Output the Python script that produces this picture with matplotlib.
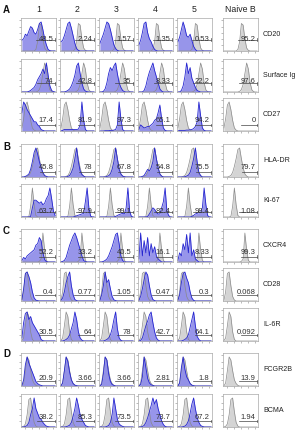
import numpy as np
import matplotlib
matplotlib.use("Agg")
import matplotlib.pyplot as plt
from matplotlib import font_manager

_names = {f.name for f in font_manager.fontManager.ttflist}
_fam = 'Liberation Sans' if 'Liberation Sans' in _names else 'DejaVu Sans'
plt.rcParams['font.family'] = [_fam, 'DejaVu Sans']

# ---------------- data ----------------
columns = ["1", "2", "3", "4", "5", "Naive B"]
markers = ["CD20", "Surface Ig", "CD27", "HLA-DR", "Ki-67",
           "CXCR4", "CD28", "IL-6R", "FCGR2B", "BCMA"]
sections = ["A", "B", "C", "D"]

# gated percentages (columns 1-5, Naive B)
pct_CD20 = ["48.5", "2.24", "1.57", "1.35", "0.53", "95.2"]
pct_SIg = ["74", "42.8", "35", "8.33", "22.2", "97.6"]
pct_CD27 = ["17.4", "81.9", "97.3", "65.1", "94.2", "0"]
pct_HLADR = ["45.8", "78", "67.8", "54.8", "75.5", "79.7"]
pct_Ki67 = ["63.7", "97.9", "99.1", "82.4", "98.4", "1.08"]
pct_CXCR4 = ["52.2", "33.2", "40.5", "16.1", "8.33", "99.3"]
pct_CD28 = ["0.4", "0.77", "1.05", "0.47", "0.3", "0.068"]
pct_IL6R = ["30.5", "64", "78", "42.7", "64.1", "0.092"]
pct_FCGR2B = ["20.9", "3.66", "3.66", "2.81", "1.8", "13.9"]
pct_BCMA = ["38.2", "85.3", "73.5", "73.7", "67.2", "1.94"]

# histogram heights, 20 bins across the log axis (naive B reference = gray)
gray_CD20 = [0, 0, 0, 0, 0, 0, 0, 0, 0.05, 0.3, 0.9, 0.85, 0.4, 0.1, 0.02, 0, 0, 0, 0, 0]
blue_CD20 = [
    [0.35, 0.4, 0.55, 0.5, 0.65, 0.8, 0.75, 0.6, 0.55, 0.7, 0.9, 0.95, 0.7, 0.4, 0.2, 0.05, 0.01, 0, 0, 0],
    [0.3, 0.35, 0.5, 0.7, 0.9, 0.95, 0.75, 0.5, 0.25, 0.08, 0.02, 0, 0, 0, 0, 0, 0, 0, 0, 0],
    [0.25, 0.4, 0.55, 0.75, 0.95, 0.9, 0.7, 0.45, 0.2, 0.08, 0.02, 0, 0, 0, 0, 0, 0, 0, 0, 0],
    [0.2, 0.35, 0.6, 0.9, 0.95, 0.6, 0.4, 0.3, 0.15, 0.05, 0.01, 0, 0, 0, 0, 0, 0, 0, 0, 0],
    [0.3, 0.45, 0.7, 0.95, 0.75, 0.5, 0.45, 0.55, 0.35, 0.15, 0.05, 0, 0, 0, 0, 0, 0, 0, 0, 0],
]
gray_SIg = [0, 0, 0, 0, 0, 0, 0, 0, 0, 0.02, 0.08, 0.25, 0.6, 0.95, 0.75, 0.3, 0.07, 0.01, 0, 0]
blue_SIg = [
    [0, 0, 0, 0, 0.02, 0.05, 0.1, 0.15, 0.25, 0.4, 0.5, 0.6, 0.75, 0.6, 0.95, 0.55, 0.2, 0.05, 0.01, 0],
    [0, 0, 0, 0.02, 0.05, 0.1, 0.2, 0.35, 0.55, 0.85, 0.95, 0.6, 0.3, 0.1, 0.03, 0.01, 0, 0, 0, 0],
    [0, 0, 0.02, 0.1, 0.3, 0.6, 0.8, 0.7, 0.85, 0.95, 0.6, 0.3, 0.15, 0.05, 0.01, 0, 0, 0, 0, 0],
    [0, 0, 0, 0.05, 0.2, 0.45, 0.65, 0.8, 0.95, 0.7, 0.5, 0.3, 0.1, 0.03, 0, 0, 0, 0, 0, 0],
    [0, 0, 0.05, 0.2, 0.5, 0.95, 0.6, 0.8, 0.45, 0.3, 0.15, 0.05, 0.02, 0, 0, 0, 0, 0, 0, 0],
]
gray_CD27 = [0.1, 0.4, 0.85, 0.95, 0.7, 0.35, 0.1, 0.03, 0, 0, 0, 0, 0, 0, 0, 0, 0, 0, 0, 0]
blue_CD27 = [
    [0.6, 0.95, 0.85, 0.7, 0.6, 0.5, 0.4, 0.3, 0.3, 0.2, 0.15, 0.05, 0.02, 0, 0, 0, 0, 0, 0, 0],
    [0, 0.02, 0.05, 0.05, 0.05, 0.05, 0.05, 0.05, 0.05, 0.05, 0.06, 0.2, 0.95, 0.35, 0.05, 0, 0, 0, 0, 0],
    [0, 0, 0, 0.01, 0.01, 0.01, 0.02, 0.02, 0.03, 0.05, 0.2, 0.95, 0.4, 0.05, 0, 0, 0, 0, 0, 0],
    [0.05, 0.2, 0.15, 0.1, 0.12, 0.15, 0.15, 0.2, 0.25, 0.35, 0.4, 0.6, 0.85, 0.4, 0.1, 0.02, 0, 0, 0, 0],
    [0, 0.02, 0.02, 0.02, 0.02, 0.03, 0.03, 0.04, 0.05, 0.08, 0.15, 0.3, 0.95, 0.5, 0.1, 0.02, 0, 0, 0, 0],
]
gray_HLADR = [0, 0, 0, 0.02, 0.05, 0.15, 0.35, 0.6, 0.9, 0.95, 0.6, 0.3, 0.1, 0.03, 0, 0, 0, 0, 0, 0]
blue_HLADR = [
    [0, 0, 0.02, 0.05, 0.1, 0.25, 0.5, 0.8, 0.95, 0.75, 0.5, 0.3, 0.15, 0.05, 0.02, 0, 0, 0, 0, 0],
    [0, 0, 0, 0, 0.02, 0.05, 0.15, 0.3, 0.6, 0.95, 0.5, 0.2, 0.08, 0.03, 0, 0, 0, 0, 0, 0],
    [0, 0, 0, 0, 0.02, 0.04, 0.1, 0.25, 0.5, 0.95, 0.6, 0.25, 0.1, 0.03, 0.01, 0, 0, 0, 0, 0],
    [0, 0, 0.02, 0.05, 0.15, 0.25, 0.2, 0.3, 0.5, 0.95, 0.6, 0.3, 0.1, 0.03, 0, 0, 0, 0, 0, 0],
    [0, 0, 0, 0, 0.01, 0.03, 0.06, 0.15, 0.35, 0.6, 0.95, 0.5, 0.15, 0.05, 0, 0, 0, 0, 0, 0],
]
gray_Ki67 = [0, 0, 0, 0, 0.02, 0.35, 0.95, 0.4, 0.05, 0, 0, 0, 0, 0, 0, 0, 0, 0, 0, 0]
blue_Ki67 = [
    [0, 0, 0, 0, 0, 0.02, 0.3, 0.55, 0.55, 0.5, 0.45, 0.5, 0.4, 0.45, 0.6, 0.7, 0.95, 0.6, 0.2, 0.05],
    [0, 0, 0, 0, 0, 0, 0, 0, 0.02, 0.04, 0.06, 0.08, 0.1, 0.12, 0.5, 0.95, 0.3, 0.03, 0, 0],
    [0, 0, 0, 0, 0, 0, 0, 0, 0, 0.02, 0.05, 0.08, 0.1, 0.12, 0.1, 0.3, 0.95, 0.2, 0.02, 0],
    [0, 0, 0, 0, 0, 0.02, 0.1, 0.2, 0.3, 0.25, 0.15, 0.1, 0.1, 0.3, 0.5, 0.95, 0.2, 0.05, 0, 0],
    [0, 0, 0, 0, 0, 0, 0, 0, 0.02, 0.05, 0.1, 0.12, 0.15, 0.15, 0.3, 0.95, 0.4, 0.05, 0, 0],
]
gray_CXCR4 = [0, 0, 0, 0, 0, 0, 0, 0, 0, 0, 0.02, 0.1, 0.95, 0.4, 0.05, 0, 0, 0, 0, 0]
blue_CXCR4 = [
    [0.05, 0.15, 0.1, 0.2, 0.25, 0.3, 0.35, 0.4, 0.55, 0.6, 0.8, 0.7, 0.3, 0.08, 0.01, 0, 0, 0, 0, 0],
    [0, 0.02, 0.05, 0.15, 0.35, 0.55, 0.7, 0.85, 0.95, 0.8, 0.6, 0.4, 0.2, 0.05, 0.01, 0, 0, 0, 0, 0],
    [0, 0, 0.02, 0.05, 0.1, 0.2, 0.35, 0.5, 0.7, 0.9, 0.95, 0.6, 0.2, 0.05, 0, 0, 0, 0, 0, 0],
    [0.1, 0.95, 0.2, 0.7, 0.3, 0.8, 0.2, 0.6, 0.3, 0.5, 0.2, 0.1, 0.05, 0, 0, 0, 0, 0, 0, 0],
    [0.05, 0.3, 0.2, 0.6, 0.4, 0.9, 0.3, 0.95, 0.2, 0.4, 0.1, 0.05, 0, 0, 0, 0, 0, 0, 0, 0],
]
gray_CD28 = [0.02, 0.3, 0.9, 0.95, 0.5, 0.15, 0.03, 0, 0, 0, 0, 0, 0, 0, 0, 0, 0, 0, 0, 0]
blue_CD28 = [
    [0.05, 0.4, 0.9, 0.95, 0.8, 0.6, 0.3, 0.1, 0.03, 0.01, 0, 0, 0, 0, 0, 0, 0, 0, 0, 0],
    [0.02, 0.1, 0.3, 0.6, 0.8, 0.95, 0.5, 0.2, 0.05, 0.01, 0, 0, 0, 0, 0, 0, 0, 0, 0, 0],
    [0.02, 0.2, 0.5, 0.95, 0.6, 0.7, 0.4, 0.15, 0.04, 0.01, 0, 0, 0, 0, 0, 0, 0, 0, 0, 0],
    [0.02, 0.15, 0.4, 0.7, 0.95, 0.85, 0.5, 0.2, 0.05, 0.01, 0, 0, 0, 0, 0, 0, 0, 0, 0, 0],
    [0.03, 0.2, 0.6, 0.9, 0.95, 0.75, 0.6, 0.3, 0.1, 0.02, 0, 0, 0, 0, 0, 0, 0, 0, 0, 0],
]
gray_IL6R = [0.01, 0.1, 0.5, 0.95, 0.8, 0.3, 0.05, 0, 0, 0, 0, 0, 0, 0, 0, 0, 0, 0, 0, 0]
blue_IL6R = [
    [0.1, 0.6, 0.9, 0.95, 0.7, 0.8, 0.6, 0.5, 0.4, 0.3, 0.2, 0.05, 0.01, 0, 0, 0, 0, 0, 0, 0],
    [0, 0, 0.02, 0.05, 0.1, 0.2, 0.4, 0.6, 0.95, 0.7, 0.3, 0.1, 0.03, 0, 0, 0, 0, 0, 0, 0],
    [0, 0, 0, 0.02, 0.05, 0.1, 0.2, 0.4, 0.7, 0.95, 0.4, 0.1, 0.02, 0, 0, 0, 0, 0, 0, 0],
    [0, 0.02, 0.1, 0.3, 0.5, 0.65, 0.85, 0.95, 0.6, 0.3, 0.1, 0.03, 0, 0, 0, 0, 0, 0, 0, 0],
    [0, 0, 0, 0.02, 0.05, 0.1, 0.2, 0.45, 0.7, 0.95, 0.5, 0.15, 0.05, 0, 0, 0, 0, 0, 0, 0],
]
gray_FCGR2B = [0, 0.1, 0.5, 0.95, 0.85, 0.5, 0.2, 0.08, 0.02, 0, 0, 0, 0, 0, 0, 0, 0, 0, 0, 0]
blue_FCGR2B = [
    [0.02, 0.2, 0.7, 0.95, 0.75, 0.6, 0.45, 0.3, 0.15, 0.08, 0.04, 0.02, 0, 0, 0, 0, 0, 0, 0, 0],
    [0, 0.1, 0.5, 0.95, 0.8, 0.45, 0.2, 0.08, 0.03, 0.01, 0, 0, 0, 0, 0, 0, 0, 0, 0, 0],
    [0, 0.05, 0.4, 0.95, 0.85, 0.4, 0.15, 0.05, 0.02, 0, 0, 0, 0, 0, 0, 0, 0, 0, 0, 0],
    [0, 0.05, 0.3, 0.95, 0.6, 0.25, 0.1, 0.04, 0.02, 0, 0, 0, 0, 0, 0, 0, 0, 0, 0, 0],
    [0, 0.1, 0.6, 0.95, 0.55, 0.3, 0.2, 0.08, 0.03, 0.01, 0, 0, 0, 0, 0, 0, 0, 0, 0, 0],
]
gray_BCMA = [0, 0.02, 0.1, 0.4, 0.9, 0.95, 0.5, 0.15, 0.03, 0, 0, 0, 0, 0, 0, 0, 0, 0, 0, 0]
blue_BCMA = [
    [0, 0, 0.02, 0.05, 0.15, 0.4, 0.6, 0.95, 0.6, 0.45, 0.3, 0.25, 0.15, 0.08, 0.03, 0.01, 0, 0, 0, 0],
    [0, 0, 0, 0.01, 0.03, 0.06, 0.15, 0.35, 0.6, 0.95, 0.7, 0.4, 0.25, 0.15, 0.05, 0.02, 0, 0, 0, 0],
    [0, 0, 0, 0, 0.02, 0.05, 0.15, 0.4, 0.95, 0.6, 0.25, 0.1, 0.05, 0.02, 0, 0, 0, 0, 0, 0],
    [0, 0, 0.02, 0.05, 0.15, 0.3, 0.5, 0.7, 0.95, 0.75, 0.9, 0.6, 0.4, 0.2, 0.08, 0.02, 0, 0, 0, 0],
    [0, 0, 0, 0.01, 0.03, 0.08, 0.2, 0.45, 0.75, 0.95, 0.6, 0.3, 0.15, 0.05, 0.02, 0, 0, 0, 0, 0],
]

rows = [
    (gray_CD20, blue_CD20, pct_CD20),
    (gray_SIg, blue_SIg, pct_SIg),
    (gray_CD27, blue_CD27, pct_CD27),
    (gray_HLADR, blue_HLADR, pct_HLADR),
    (gray_Ki67, blue_Ki67, pct_Ki67),
    (gray_CXCR4, blue_CXCR4, pct_CXCR4),
    (gray_CD28, blue_CD28, pct_CD28),
    (gray_IL6R, blue_IL6R, pct_IL6R),
    (gray_FCGR2B, blue_FCGR2B, pct_FCGR2B),
    (gray_BCMA, blue_BCMA, pct_BCMA),
]

# ---------------- layout / style ----------------
W_PX, H_PX = 306, 433
fig = plt.figure(figsize=(W_PX / 100, H_PX / 100), dpi=100)

col_left = [21, 60, 99, 138, 177, 223]
col_w = 35
row_top = [18, 59, 98, 144, 184, 229, 268, 308, 353, 394]
row_h = 33

gate_x0 = [0.42, 0.45, 0.5, 0.55, 0.45, 0.5, 0.4, 0.5, 0.45, 0.45]
gate_y = [0.37, 0.28, 0.2, 0.15, 0.17, 0.18, 0.2, 0.2, 0.15, 0.2]
text_y = [0.37, 0.33, 0.33, 0.3, 0.17, 0.3, 0.27, 0.27, 0.25, 0.3]

BLUE_FILL = '#8e8ce9'
BLUE_EDGE = '#2525d0'
GRAY_FILL = '#d4d4d4'
GRAY_EDGE = '#8a8a8a'

nb = 20
xc = (np.arange(nb) + 0.5) / nb

def px_rect(l, t, w, h):
    return [l / W_PX, 1 - (t + h) / H_PX, w / W_PX, h / H_PX]

for r, (gray, blues, pcts) in enumerate(rows):
    for c in range(6):
        ax = fig.add_axes(px_rect(col_left[c], row_top[r], col_w, row_h))
        ax.set_xlim(0, 1)
        ax.set_ylim(0, 1.08)
        g = np.array(gray)
        ax.fill_between(xc, 0, g, color=GRAY_FILL, lw=0)
        if c < 5:
            b = np.array(blues[c])
            ax.fill_between(xc, 0, b, color=BLUE_FILL, lw=0, alpha=0.92)
            ax.plot(xc, g, color=GRAY_EDGE, lw=0.5)
            ax.plot(xc, b, color=BLUE_EDGE, lw=0.6)
        else:
            ax.plot(xc, g, color=GRAY_EDGE, lw=0.5)
        # gate
        x0 = gate_x0[r]
        y0 = gate_y[r]
        ax.plot([x0, 0.98], [y0, y0], color='#444444', lw=0.5)
        ax.plot([0.98, 0.98], [y0 - 0.04, y0 + 0.04], color='#444444', lw=0.5)
        ax.text(0.93, text_y[r], pcts[c], ha='right', va='center',
                fontsize=5.5, color='#333333')
        for s in ax.spines.values():
            s.set_color('#a8a8a8')
            s.set_linewidth(0.5)
        ax.set_xticks([0.1, 0.3, 0.5, 0.7, 0.9])
        ax.set_xticklabels(["", "", "", "", ""])
        ax.set_yticks([0.2, 0.4, 0.6, 0.8, 1.0])
        ax.set_yticklabels([])
        ax.tick_params(length=1.2, width=0.4, color='#888888', pad=0.5)

# column headers
for c, name in enumerate(columns):
    fig.text((col_left[c] + col_w / 2) / W_PX, 1 - 9 / H_PX, name,
             ha='center', va='center', fontsize=6.3, color='#222222')

# row labels
for r, name in enumerate(markers):
    fig.text(263 / W_PX, 1 - (row_top[r] + row_h / 2) / H_PX, name,
             ha='left', va='center', fontsize=5.1, color='#222222')

# section letters
sec_y = [10, 147, 231, 354]
for s, yv in zip(sections, sec_y):
    fig.text(3 / W_PX, 1 - yv / H_PX, s, ha='left', va='center',
             fontsize=7, fontweight='bold', color='#111111')

fig.savefig('out.png', dpi=100)
